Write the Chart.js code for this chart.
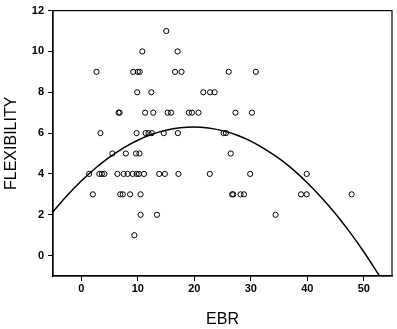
<!DOCTYPE html>
<html>
<head>
<meta charset="utf-8">
<script src="https://cdn.jsdelivr.net/npm/chart.js@4"></script>
<style>
html,body{margin:0;padding:0;background:#fff;}
#wrap{width:397px;height:329px;position:relative;}
</style>
</head>
<body>
<div id="wrap"><canvas id="c" width="397" height="329"></canvas></div>
<script>
// Observed points (EBR, FLEXIBILITY)
const ebr = [
  15.05,
  10.8, 17.05,
  2.7, 9.2, 10.0, 10.35, 16.6, 17.75, 26.1, 30.9,
  9.9, 12.4, 21.6, 22.8, 23.6,
  6.6, 6.8, 11.3, 12.75, 15.3, 15.9, 19.05, 19.6, 20.75, 27.3, 30.2,
  3.4, 9.8, 11.4, 11.9, 12.5, 14.6, 17.1, 25.2, 25.6,
  5.5, 7.9, 9.7, 10.3, 26.45,
  1.4, 3.2, 3.65, 4.1, 6.4, 7.5, 8.2, 9.1, 9.8, 10.2, 11.1, 13.8, 14.8, 17.2, 22.75, 29.9, 39.9,
  2.05, 6.9, 7.35, 8.65, 10.5, 26.7, 26.9, 28.2, 28.8, 38.9, 39.9, 47.85,
  10.5, 13.4, 34.4,
  9.4
];
const flexibility = [
  11,
  10, 10,
  9, 9, 9, 9, 9, 9, 9, 9,
  8, 8, 8, 8, 8,
  7, 7, 7, 7, 7, 7, 7, 7, 7, 7, 7,
  6, 6, 6, 6, 6, 6, 6, 6, 6,
  5, 5, 5, 5, 5,
  4, 4, 4, 4, 4, 4, 4, 4, 4, 4, 4, 4, 4, 4, 4, 4, 4,
  3, 3, 3, 3, 3, 3, 3, 3, 3, 3, 3, 3,
  2, 2, 2,
  1
];
// Fitted curve
const curveX = [-5, -2.5, 0, 2.5, 5, 7.5, 10, 12.5, 15, 17.5, 20, 22.5, 25, 27.5, 30, 32.5, 35, 37.5, 40, 42.5, 45, 47.5, 50, 52.8];
const curveY = [2.15, 2.94, 3.65, 4.28, 4.82, 5.28, 5.65, 5.94, 6.14, 6.26, 6.30, 6.25, 6.12, 5.91, 5.61, 5.22, 4.76, 4.21, 3.57, 2.85, 2.05, 1.16, 0.19, -1.0];
const xTicks = [0, 10, 20, 30, 40, 50];
const yTicks = [0, 2, 4, 6, 8, 10, 12];

const scatterData = ebr.map((x, i) => ({x: x, y: flexibility[i]}));
const curveData = curveX.map((x, i) => ({x: x, y: curveY[i]}));

const frame = {
  id: 'frame',
  afterDatasetsDraw(chart) {
    const a = chart.chartArea, ctx = chart.ctx;
    ctx.save();
    ctx.strokeStyle = '#000';
    ctx.lineWidth = 1.2;
    ctx.strokeRect(a.left, a.top, a.right - a.left, a.bottom - a.top);
    ctx.restore();
  }
};

new Chart(document.getElementById('c'), {
  type: 'scatter',
  data: {
    datasets: [
      {
        data: scatterData,
        pointStyle: 'circle',
        pointRadius: 2.6,
        pointBorderWidth: 1,
        pointBorderColor: '#000',
        pointBackgroundColor: 'rgba(255,255,255,0)',
        showLine: false
      },
      {
        type: 'line',
        data: curveData,
        borderColor: '#000',
        borderWidth: 1.5,
        pointRadius: 0,
        fill: false,
        tension: 0.4,
        cubicInterpolationMode: 'monotone'
      }
    ]
  },
  options: {
    responsive: false,
    animation: false,
    layout: {padding: {left: 0, right: 5, top: 7, bottom: 0}},
    plugins: {legend: {display: false}, tooltip: {enabled: false}},
    scales: {
      x: {
        type: 'linear',
        min: -5, max: 55,
        afterBuildTicks(s) { s.ticks = xTicks.map(v => ({value: v})); },
        afterFit(s) { s.height = 53; },
        grid: {display: true, drawOnChartArea: false, drawTicks: true, tickLength: 5, color: '#000', lineWidth: 1},
        border: {display: true, color: '#000', width: 1.2},
        ticks: {color: '#000', padding: 1, font: {family: 'Liberation Sans, Arial, sans-serif', size: 11, weight: 'bold'}},
        title: {display: true, text: 'EBR', color: '#000', padding: {top: 4, bottom: 0}, font: {family: 'Liberation Sans, Arial, sans-serif', size: 16}}
      },
      y: {
        type: 'linear',
        min: -1, max: 12,
        afterBuildTicks(s) { s.ticks = yTicks.map(v => ({value: v})); },
        afterFit(s) { s.width = 53; },
        grid: {display: true, drawOnChartArea: false, drawTicks: true, tickLength: 5, color: '#000', lineWidth: 1},
        border: {display: true, color: '#000', width: 1.2},
        ticks: {color: '#000', padding: 4, font: {family: 'Liberation Sans, Arial, sans-serif', size: 11, weight: 'bold'}},
        title: {display: true, text: 'FLEXIBILITY', color: '#000', padding: {top: 2, bottom: 0}, font: {family: 'Liberation Sans, Arial, sans-serif', size: 16}}
      }
    }
  },
  plugins: [frame]
});
</script>
</body>
</html>
